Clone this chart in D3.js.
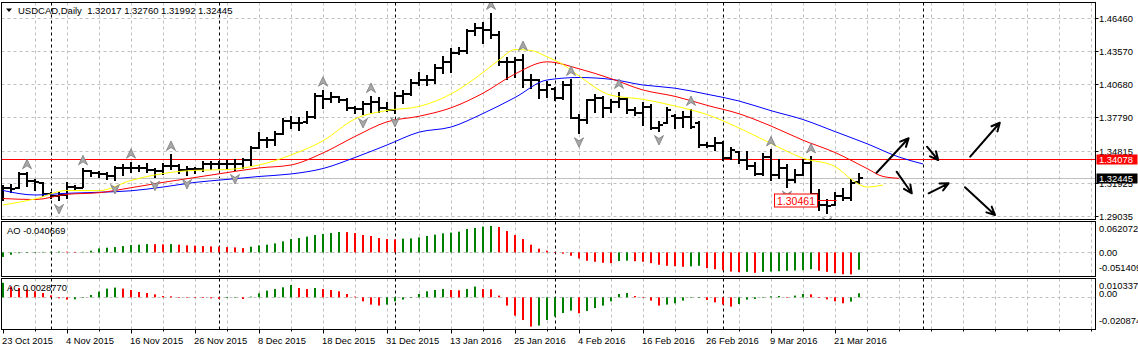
<!DOCTYPE html>
<html>
<head>
<meta charset="utf-8">
<script src="https://cdn.jsdelivr.net/npm/d3@7"></script>
<style>
html, body { margin: 0; padding: 0; background: #fff; }
svg { display: block; font-family: "Liberation Sans", Arial, sans-serif; }
text { white-space: pre; }
</style>
</head>
<body>
<div id="chart"></div>
<script>
// ---- data ----
const headerText = "USDCAD,Daily  1.32017 1.32760 1.31992 1.32445";
const dateLabels = ["23 Oct 2015", "4 Nov 2015", "16 Nov 2015", "26 Nov 2015", "8 Dec 2015",
    "18 Dec 2015", "31 Dec 2015", "13 Jan 2016", "25 Jan 2016", "4 Feb 2016",
    "16 Feb 2016", "26 Feb 2016", "9 Mar 2016", "21 Mar 2016"];

const open = [1.3091, 1.3153, 1.3153, 1.3276, 1.3214, 1.3197, 1.3100, 1.3082, 1.3091, 1.3161,
    1.3153, 1.3302, 1.3285, 1.3276, 1.3258, 1.3329, 1.3329, 1.3329, 1.3329, 1.3311,
    1.3302, 1.3346, 1.3346, 1.3311, 1.3320, 1.3320, 1.3364, 1.3364, 1.3364, 1.3364,
    1.3364, 1.3399, 1.3505, 1.3575, 1.3575, 1.3628, 1.3742, 1.3725, 1.3733, 1.3777,
    1.3962, 1.3936, 1.3953, 1.3927, 1.3857, 1.3848, 1.3892, 1.3909, 1.3857, 1.3839,
    1.3962, 1.3980, 1.4077, 1.4103, 1.4103, 1.4209, 1.4261, 1.4341, 1.4358, 1.4534,
    1.4561, 1.4543, 1.4499, 1.4261, 1.4261, 1.4279, 1.4103, 1.4103, 1.4015, 1.4024,
    1.3945, 1.4059, 1.3769, 1.3751, 1.3927, 1.3945, 1.3857, 1.3909, 1.3936, 1.3839,
    1.3813, 1.3865, 1.3681, 1.3725, 1.3786, 1.3769, 1.3777, 1.3725, 1.3531, 1.3522,
    1.3549, 1.3417, 1.3469, 1.3399, 1.3346, 1.3276, 1.3425, 1.3267, 1.3329, 1.3223,
    1.3267, 1.3373, 1.3100, 1.3003, 1.3003, 1.3082, 1.3065, 1.32017];
const high = [1.3170, 1.3179, 1.3282, 1.3282, 1.3223, 1.3199, 1.3106, 1.3111, 1.3194, 1.3170,
    1.3317, 1.3305, 1.3296, 1.3282, 1.3340, 1.3355, 1.3375, 1.3346, 1.3364, 1.3317,
    1.3364, 1.3443, 1.3355, 1.3340, 1.3326, 1.3384, 1.3384, 1.3384, 1.3390, 1.3399,
    1.3405, 1.3516, 1.3634, 1.3590, 1.3643, 1.3757, 1.3780, 1.3766, 1.3824, 1.3980,
    1.4009, 1.3989, 1.3956, 1.3933, 1.3868, 1.3912, 1.3953, 1.3942, 1.3898, 1.3986,
    1.4009, 1.4103, 1.4167, 1.4138, 1.4235, 1.4308, 1.4373, 1.4382, 1.4543, 1.4596,
    1.4602, 1.4684, 1.4528, 1.4294, 1.4294, 1.4323, 1.4147, 1.4103, 1.4088, 1.4030,
    1.4088, 1.4103, 1.3795, 1.3927, 1.3971, 1.3956, 1.3927, 1.3989, 1.3942, 1.3854,
    1.3903, 1.3883, 1.3736, 1.3854, 1.3795, 1.3824, 1.3839, 1.3736, 1.3546, 1.3590,
    1.3560, 1.3502, 1.3472, 1.3472, 1.3370, 1.3452, 1.3483, 1.3399, 1.3355, 1.3311,
    1.3403, 1.3421, 1.3135, 1.3047, 1.3109, 1.3144, 1.3223, 1.32760];
const low = [1.3047, 1.3120, 1.3150, 1.3170, 1.3135, 1.3082, 1.3062, 1.3047, 1.3065, 1.3141,
    1.3159, 1.3258, 1.3252, 1.3229, 1.3223, 1.3267, 1.3296, 1.3305, 1.3296, 1.3252,
    1.3276, 1.3317, 1.3282, 1.3267, 1.3287, 1.3305, 1.3317, 1.3326, 1.3326, 1.3311,
    1.3326, 1.3355, 1.3502, 1.3516, 1.3531, 1.3625, 1.3678, 1.3663, 1.3727, 1.3766,
    1.3854, 1.3912, 1.3912, 1.3839, 1.3813, 1.3804, 1.3824, 1.3824, 1.3830, 1.3813,
    1.3898, 1.3971, 1.4059, 1.4059, 1.4074, 1.4167, 1.4176, 1.4332, 1.4338, 1.4499,
    1.4426, 1.4470, 1.4235, 1.4109, 1.4132, 1.4039, 1.4030, 1.3942, 1.3956, 1.3927,
    1.3933, 1.3766, 1.3634, 1.3722, 1.3824, 1.3780, 1.3824, 1.3868, 1.3810, 1.3795,
    1.3707, 1.3672, 1.3654, 1.3722, 1.3678, 1.3692, 1.3678, 1.3516, 1.3511, 1.3487,
    1.3399, 1.3405, 1.3370, 1.3317, 1.3267, 1.3267, 1.3223, 1.3238, 1.3164, 1.3208,
    1.3267, 1.3091, 1.2959, 1.2933, 1.3003, 1.3047, 1.3047, 1.31992];
const close = [1.3153, 1.3144, 1.3276, 1.3214, 1.3205, 1.3100, 1.3082, 1.3091, 1.3161, 1.3153,
    1.3302, 1.3285, 1.3276, 1.3258, 1.3329, 1.3329, 1.3329, 1.3329, 1.3311, 1.3302,
    1.3346, 1.3346, 1.3311, 1.3320, 1.3320, 1.3364, 1.3364, 1.3364, 1.3364, 1.3364,
    1.3399, 1.3505, 1.3575, 1.3575, 1.3628, 1.3742, 1.3725, 1.3725, 1.3777, 1.3962,
    1.3936, 1.3953, 1.3927, 1.3857, 1.3848, 1.3892, 1.3909, 1.3857, 1.3839, 1.3962,
    1.3980, 1.4077, 1.4103, 1.4103, 1.4209, 1.4261, 1.4341, 1.4358, 1.4534, 1.4561,
    1.4543, 1.4499, 1.4261, 1.4261, 1.4279, 1.4103, 1.4103, 1.4015, 1.4059, 1.3945,
    1.4059, 1.3769, 1.3751, 1.3927, 1.3945, 1.3857, 1.3909, 1.3936, 1.3839, 1.3813,
    1.3865, 1.3681, 1.3707, 1.3839, 1.3769, 1.3777, 1.3689, 1.3531, 1.3522, 1.3549,
    1.3417, 1.3487, 1.3399, 1.3346, 1.3276, 1.3425, 1.3267, 1.3329, 1.3223, 1.3267,
    1.3373, 1.3100, 1.3003, 1.2994, 1.3082, 1.3065, 1.3197, 1.32445];

const fractalUp = [3, 10, 16, 21, 40, 46, 61, 65, 71, 77, 86, 96, 101];
const fractalDown = [7, 14, 19, 23, 29, 45, 49, 72, 82, 98, 103];

// alligator lines, [bar, price]
const lips = [[0, 1.3003], [4, 1.3056], [8, 1.3131], [12, 1.3129], [16, 1.3219], [20, 1.3280],
    [24, 1.3308], [28, 1.3315], [32, 1.3355], [36, 1.3443], [40, 1.3568], [44, 1.3760],
    [48, 1.3835], [52, 1.3870], [56, 1.3980], [60, 1.4169], [62, 1.4279], [64, 1.4371],
    [66, 1.4363], [68, 1.4307], [70, 1.4239], [72, 1.4138], [76, 1.3969], [80, 1.3933],
    [84, 1.3874], [88, 1.3799], [92, 1.3681], [96, 1.3544], [100, 1.3415], [104, 1.3342],
    [106, 1.3232], [108, 1.3161], [110, 1.3179]];
const teeth = [[0, 1.3060], [4, 1.3051], [8, 1.3097], [12, 1.3111], [16, 1.3155], [20, 1.3202],
    [24, 1.3245], [28, 1.3288], [32, 1.3329], [36, 1.3355], [40, 1.3461], [44, 1.3606],
    [48, 1.3735], [52, 1.3784], [56, 1.3858], [60, 1.3987], [64, 1.4156], [68, 1.4263],
    [72, 1.4202], [76, 1.4115], [80, 1.4015], [84, 1.3959], [88, 1.3880], [92, 1.3806],
    [96, 1.3698], [100, 1.3573], [104, 1.3465], [108, 1.3324], [110, 1.3254], [112, 1.3238]];
const jaw = [[0, 1.3131], [4, 1.3091], [8, 1.3106], [12, 1.3115], [16, 1.3128], [20, 1.3161],
    [24, 1.3202], [28, 1.3228], [32, 1.3254], [36, 1.3276], [40, 1.3324], [44, 1.3421],
    [48, 1.3531], [52, 1.3644], [56, 1.3689], [60, 1.3808], [64, 1.3949], [68, 1.4103],
    [72, 1.4125], [76, 1.4109], [80, 1.4059], [84, 1.4031], [88, 1.3978], [92, 1.3918],
    [96, 1.3833], [100, 1.3755], [104, 1.3649], [108, 1.3542], [112, 1.3425], [115, 1.3364]];

const aoValues = [-0.01062, -0.00543, -0.00189, -0.00094, 0.00047, 0.00118, 0.00189, 0.00212, 0.00165, 0.00118,
    0.00142, 0.00401, 0.00944, 0.01109, 0.01251, 0.01487, 0.01723, 0.01817, 0.01959, 0.01935,
    0.01888, 0.01959, 0.01817, 0.01652, 0.01581, 0.01487, 0.01416, 0.01345, 0.01251, 0.01180,
    0.01015, 0.01345, 0.01652, 0.01817, 0.02124, 0.02596, 0.03139, 0.03375, 0.03705, 0.04083,
    0.04319, 0.04555, 0.04791, 0.04767, 0.04555, 0.04083, 0.03847, 0.03375, 0.03139, 0.03068,
    0.03233, 0.03304, 0.03540, 0.03847, 0.04177, 0.04484, 0.04649, 0.04885, 0.05499, 0.05735,
    0.06065, 0.062072, 0.05971, 0.05027, 0.04083, 0.03139, 0.01817, 0.00873, 0.00401, 0.00071,
    -0.00307, -0.00779, -0.01416, -0.01959, -0.02195, -0.02431, -0.02525, -0.02006, -0.01935, -0.02053,
    -0.02195, -0.02525, -0.02903, -0.03139, -0.03233, -0.03375, -0.03280, -0.03139, -0.03705, -0.03941,
    -0.04177, -0.04484, -0.04649, -0.04555, -0.04791, -0.04555, -0.04484, -0.04413, -0.04319, -0.04248,
    -0.04177, -0.03941, -0.04319, -0.04555, -0.04885, -0.05121, -0.051409, -0.040669];
const acValues = [0.010337, 0.00762, 0.00662, 0.00570, 0.00427, 0.00306, 0.00142, -0.00071, -0.00164, -0.00142,
    -0.00021, 0.00164, 0.00406, 0.00619, 0.00691, 0.00619, 0.00520, 0.00377, 0.00306, 0.00214,
    0.00093, 0.00071, 0.00021, -0.00005, -0.00021, -0.00050, -0.00071, -0.00121, -0.00050, -0.00021,
    -0.00121, 0.00050, 0.00285, 0.00477, 0.00591, 0.00712, 0.00876, 0.00662, 0.00591, 0.00662,
    0.00591, 0.00520, 0.00427, 0.00235, 0.00050, -0.00285, -0.00520, -0.00591, -0.00520, -0.00285,
    -0.00164, -0.00021, 0.00235, 0.00427, 0.00520, 0.00591, 0.00520, 0.00498, 0.00591, 0.00762,
    0.00591, 0.00570, 0.00121, -0.00591, -0.01303, -0.01616, -0.020874, -0.02015, -0.01616, -0.01374,
    -0.01118, -0.00947, -0.01139, -0.00975, -0.00762, -0.00591, -0.00285, 0.00235, 0.00306, 0.00093,
    0.00007, -0.00235, -0.00591, -0.00520, -0.00427, -0.00235, -0.00036, -0.00021, -0.00192, -0.00356,
    -0.00520, -0.00662, -0.00477, -0.00164, -0.00121, -0.00014, 0.00071, 0.00093, 0.00021, 0.00121,
    0.00235, 0.00214, -0.00003, -0.00142, -0.00285, -0.00427, -0.00306, 0.0028770];

const priceTicks = [1.46460, 1.43570, 1.40680, 1.37790, 1.34815, 1.31925, 1.29035];
const aoTickLabels = ["0.062072", "0.00", "-0.051409"];
const acTickLabels = ["0.010337", "0.00", "-0.020874"];
const monthStarts = [6, 27, 49, 69, 90, 115];
const levelPrice = 1.34078;
const bidPrice = 1.32445;
const noteLabel = { text: "1.30461", price: 1.30461, bar: 102, lineTo: 104.2 };
// drawn arrows: [bar1, price1, bar2, price2]
const arrows = [[109.2, 1.3287, 113.2, 1.3590], [111.7, 1.3296, 113.6, 1.3106],
    [115.5, 1.3516, 116.9, 1.3399], [115.7, 1.3106, 118.2, 1.3194],
    [120.9, 1.3428, 124.6, 1.3727], [120.25, 1.3159, 124.0, 1.2915]];

// ---- layout ----
const width = 1138, height = 351;
const left = 1.5, right = 1095.5;
const mainP = { top: 2.5, bottom: 219.5 };
const aoP = { top: 221.5, bottom: 276.5 };
const acP = { top: 278.5, bottom: 329.5 };
const fontSize = 9.4;
const green = "#008000", red = "#ff0000", gridCol = "#c0c0c0";

const svg = d3.select("#chart").append("svg")
    .attr("width", width).attr("height", height);

const x = d3.scaleLinear().domain([0, 1]).range([3, 11]);
const y = d3.scaleLinear().domain([1.29035, 1.46460]).range([216.3, 18.3]);
const yAO = d3.scaleLinear().domain([-0.051409, 0.062072]).range([274.3, 226]);
const yAC = d3.scaleLinear().domain([-0.020874, 0.010337]).range([326.6, 282.8]);
const nBars = close.length;
const gridBars = d3.range(4, 140, 4).filter(b => x(b) < right);

const defs = svg.append("defs");
[["clipMain", mainP], ["clipAO", aoP], ["clipAC", acP]].forEach(([id, p]) => {
    defs.append("clipPath").attr("id", id).append("rect")
        .attr("x", left).attr("y", p.top).attr("width", right - left).attr("height", p.bottom - p.top);
});

function panelGrid(g, p) {
    g.selectAll(".vgrid").data(gridBars).join("line")
        .attr("x1", b => x(b) + 0.5).attr("x2", b => x(b) + 0.5)
        .attr("y1", p.top).attr("y2", p.bottom)
        .attr("stroke", gridCol).attr("stroke-dasharray", "3,3");
    g.selectAll(".sep").data(monthStarts).join("line")
        .attr("x1", b => x(b) + 0.5).attr("x2", b => x(b) + 0.5)
        .attr("y1", p.top).attr("y2", p.bottom)
        .attr("stroke", "#000").attr("stroke-dasharray", "3,3");
}

// ---- main panel ----
const gm = svg.append("g").attr("clip-path", "url(#clipMain)");
gm.selectAll(".hgrid").data(priceTicks).join("line")
    .attr("x1", left).attr("x2", right)
    .attr("y1", d => Math.round(y(d)) + 0.5).attr("y2", d => Math.round(y(d)) + 0.5)
    .attr("stroke", gridCol).attr("stroke-dasharray", "3,3");
panelGrid(gm, mainP);

gm.append("line").attr("x1", left).attr("x2", right)
    .attr("y1", Math.round(y(bidPrice)) + 0.5).attr("y2", Math.round(y(bidPrice)) + 0.5)
    .attr("stroke", "#c0c0c0");
gm.append("line").attr("x1", left).attr("x2", right)
    .attr("y1", Math.round(y(levelPrice)) + 0.5).attr("y2", Math.round(y(levelPrice)) + 0.5)
    .attr("stroke", red);

// OHLC bars
const bars = gm.append("g").attr("stroke", "#000").attr("stroke-width", 2);
d3.range(nBars).forEach(i => {
    const cx = x(i);
    bars.append("line").attr("x1", cx).attr("x2", cx)
        .attr("y1", Math.round(y(high[i])) - 1).attr("y2", Math.round(y(low[i])) + 1);
    const yo = Math.round(y(open[i])), yc = Math.round(y(close[i]));
    bars.append("line").attr("x1", cx - 4).attr("x2", cx).attr("y1", yo).attr("y2", yo);
    bars.append("line").attr("x1", cx).attr("x2", cx + 4).attr("y1", yc).attr("y2", yc);
});

// alligator
const lineGen = d3.line().x(d => x(d[0])).y(d => y(d[1])).curve(d3.curveMonotoneX);
[[jaw, "#0000ff"], [teeth, red], [lips, "#ffff00"]].forEach(([data, col]) => {
    gm.append("path").attr("d", lineGen(data)).attr("fill", "none")
        .attr("stroke", col).attr("stroke-width", 1);
});

// fractals
const upShape = "M0,-5 L4.5,4.5 L0,1.5 L-4.5,4.5 Z";
const downShape = "M0,5 L4.5,-4.5 L0,-1.5 L-4.5,-4.5 Z";
gm.selectAll(".fup").data(fractalUp).join("path")
    .attr("d", upShape)
    .attr("transform", b => `translate(${x(b)},${y(high[b]) - 9})`)
    .attr("fill", "#a8a8a8").attr("stroke", "#7a7a7a").attr("stroke-width", 0.8);
gm.selectAll(".fdn").data(fractalDown).join("path")
    .attr("d", downShape)
    .attr("transform", b => `translate(${x(b)},${y(low[b]) + 9})`)
    .attr("fill", "#a8a8a8").attr("stroke", "#7a7a7a").attr("stroke-width", 0.8);

// drawn arrows
arrows.forEach(([b1, p1, b2, p2]) => {
    const x1 = x(b1), y1 = y(p1), x2 = x(b2), y2 = y(p2);
    const ang = Math.atan2(y2 - y1, x2 - x1), len = 9, spread = 0.45;
    const ha = [ang + Math.PI - spread, ang + Math.PI + spread]
        .map(a => [x2 + len * Math.cos(a), y2 + len * Math.sin(a)]);
    gm.append("path")
        .attr("d", `M${x1},${y1}L${x2},${y2}M${ha[0][0]},${ha[0][1]}L${x2},${y2}L${ha[1][0]},${ha[1][1]}`)
        .attr("fill", "none").attr("stroke", "#000").attr("stroke-width", 2)
        .attr("stroke-linecap", "round").attr("stroke-linejoin", "round");
});

// price note label
{
    const ny = Math.round(y(noteLabel.price)) + 0.5;
    const bx2 = x(noteLabel.bar) - 1.5, bw = 43, bh = 13;
    gm.append("line").attr("x1", bx2).attr("x2", x(noteLabel.lineTo))
        .attr("y1", ny).attr("y2", ny).attr("stroke", red);
    gm.append("rect").attr("x", bx2 - bw).attr("y", ny - bh / 2).attr("width", bw).attr("height", bh)
        .attr("fill", "#fff").attr("stroke", red);
    gm.append("text").attr("x", bx2 - bw / 2).attr("y", ny + 0.5)
        .attr("text-anchor", "middle").attr("dominant-baseline", "central")
        .attr("font-size", 10.5).attr("fill", red).text(noteLabel.text);
}

// header
svg.append("path").attr("d", "M6,8.5 L12,8.5 L9,12 Z").attr("fill", "#000");
svg.append("text").attr("x", 18).attr("y", 10.5).attr("dominant-baseline", "central")
    .attr("font-size", 9.5).attr("fill", "#000").text(headerText);

// ---- AO / AC panels ----
function histPanel(clipId, p, scale, values, label, tickLabels, zeroLabelDy) {
    const g = svg.append("g").attr("clip-path", `url(#${clipId})`);
    const y0 = Math.round(scale(0)) + 0.5;
    g.append("line").attr("x1", left).attr("x2", right).attr("y1", y0).attr("y2", y0)
        .attr("stroke", gridCol).attr("stroke-dasharray", "3,3");
    panelGrid(g, p);
    g.selectAll(".hb").data(values).join("rect")
        .attr("x", (d, i) => x(i) - 1).attr("width", 2)
        .attr("y", d => Math.min(scale(d), scale(0)))
        .attr("height", d => Math.max(0.6, Math.abs(scale(d) - scale(0))))
        .attr("fill", (d, i) => (i === 0 || d >= values[i - 1]) ? green : red);
    svg.append("text").attr("x", 7).attr("y", p.top + 9).attr("dominant-baseline", "central")
        .attr("font-size", fontSize).attr("fill", "#000").text(label);
    const ty = [p.top + 7, scale(0) + zeroLabelDy, p.bottom - 9];
    tickLabels.forEach((t, k) => {
        svg.append("text").attr("x", 1099).attr("y", ty[k]).attr("dominant-baseline", "central")
            .attr("font-size", fontSize).attr("fill", "#000").text(t);
    });
}
histPanel("clipAO", aoP, yAO, aoValues, "AO -0.040669", aoTickLabels, 0);
histPanel("clipAC", acP, yAC, acValues, "AC 0.0028770", acTickLabels, -4);

// ---- borders ----
[mainP, aoP, acP].forEach(p => {
    svg.append("rect").attr("x", left).attr("y", p.top).attr("width", right - left)
        .attr("height", p.bottom - p.top).attr("fill", "none").attr("stroke", "#000");
});

// ---- right price axis ----
priceTicks.forEach(t => {
    const ty = Math.round(y(t)) + 0.5;
    svg.append("line").attr("x1", right).attr("x2", right + 3).attr("y1", ty).attr("y2", ty).attr("stroke", "#000");
    svg.append("text").attr("x", 1099).attr("y", ty).attr("dominant-baseline", "central")
        .attr("font-size", fontSize).attr("fill", "#000").text(t.toFixed(5));
});
[[levelPrice, red], [bidPrice, "#000"]].forEach(([p, col]) => {
    const ty = Math.round(y(p)) + 0.5;
    svg.append("rect").attr("x", right + 1).attr("y", ty - 5).attr("width", 41).attr("height", 10).attr("fill", col);
    svg.append("text").attr("x", 1099).attr("y", ty).attr("dominant-baseline", "central")
        .attr("font-size", fontSize).attr("fill", "#fff").text(p.toFixed(5));
});

// ---- time axis ----
const axisY = acP.bottom;
gridBars.concat([0]).forEach(b => {
    const major = b % 8 === 0 && b / 8 < dateLabels.length;
    svg.append("line").attr("x1", x(b) + 0.5).attr("x2", x(b) + 0.5)
        .attr("y1", axisY).attr("y2", axisY + (major ? 4 : 2)).attr("stroke", "#000");
});
dateLabels.forEach((lab, k) => {
    svg.append("text").attr("x", x(k * 8) - 1).attr("y", 340).attr("dominant-baseline", "central")
        .attr("font-size", fontSize).attr("fill", "#000").text(lab);
});
</script>
</body>
</html>
